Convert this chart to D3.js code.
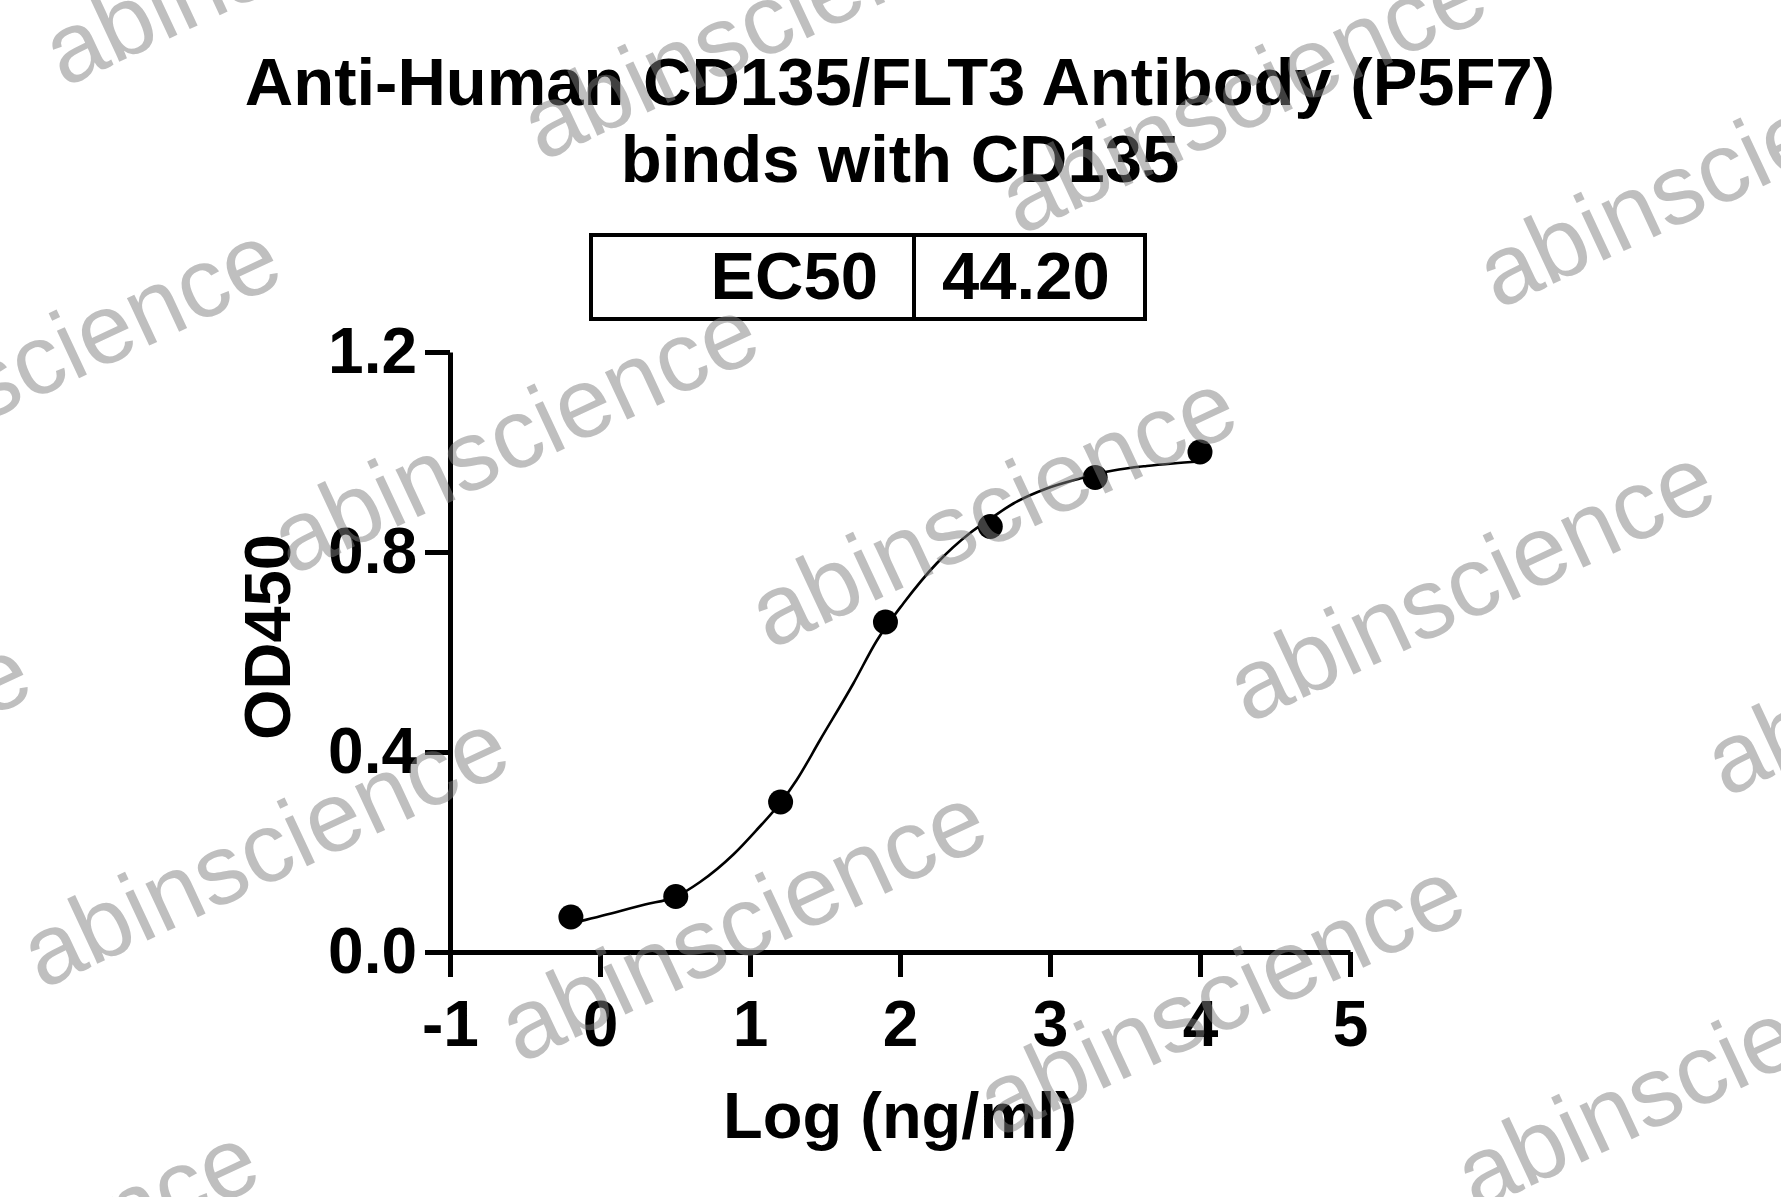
<!DOCTYPE html>
<html>
<head>
<meta charset="utf-8">
<script src="https://cdn.jsdelivr.net/npm/d3@7"></script>
<style>
  html, body { margin: 0; padding: 0; background: #fff; }
  svg { display: block; }
  text { font-family: "Liberation Sans", Arial, Helvetica, sans-serif; }
</style>
</head>
<body>
<svg id="chart" width="1781" height="1197"></svg>
<script>
// ---- data ----
const titleLines = ["Anti-Human CD135/FLT3 Antibody (P5F7)", "binds with CD135"];
const tableCells = ["EC50", "44.20"];
const xLabel = "Log (ng/ml)";
const yLabel = "OD450";
const xTicks = [-1, 0, 1, 2, 3, 4, 5];
const xTickLabels = ["-1", "0", "1", "2", "3", "4", "5"];
const yTicks = [0, 0.4, 0.8, 1.2];
const yTickLabels = ["0.0", "0.4", "0.8", "1.2"];
const pointX = [-0.194, 0.505, 1.204, 1.903, 2.602, 3.301, 4.0];
const pointY = [0.070, 0.111, 0.300, 0.660, 0.851, 0.949, 1.000];
// fitted curve, sampled along the drawn line
const curveX = [-0.194, 0.10, 0.30, 0.50, 0.667, 0.889, 1.044, 1.207, 1.311, 1.467, 1.689, 1.844, 2.022, 2.244, 2.467, 2.60, 2.756, 2.978, 3.20, 3.422, 3.644, 3.82, 4.0];
const curveY = [0.057, 0.079, 0.095, 0.110, 0.140, 0.195, 0.244, 0.300, 0.344, 0.424, 0.537, 0.622, 0.697, 0.777, 0.838, 0.866, 0.897, 0.927, 0.947, 0.963, 0.972, 0.977, 0.981];
const watermarkText = "abinscience";

const svg = d3.select("#chart");
const x = d3.scaleLinear().domain([-1, 5]).range([450, 1350]);
const y = d3.scaleLinear().domain([0, 1.2]).range([952, 352]);
const black = "#000";

// title
svg.append("g").selectAll("text").data(titleLines).join("text")
  .attr("x", 900).attr("y", (d, i) => 105 + i * 77)
  .attr("text-anchor", "middle").attr("font-size", 67).attr("font-weight", "bold")
  .attr("fill", black).text(d => d);

// EC50 table
const tbl = svg.append("g");
tbl.append("rect").attr("x", 591).attr("y", 235).attr("width", 554).attr("height", 84)
  .attr("fill", "none").attr("stroke", black).attr("stroke-width", 4);
tbl.append("line").attr("x1", 914).attr("x2", 914).attr("y1", 235).attr("y2", 319)
  .attr("stroke", black).attr("stroke-width", 4);
tbl.append("text").attr("x", 878).attr("y", 299).attr("text-anchor", "end")
  .attr("font-size", 67).attr("font-weight", "bold").text(tableCells[0]);
tbl.append("text").attr("x", 942).attr("y", 299).attr("text-anchor", "start")
  .attr("font-size", 67).attr("font-weight", "bold").text(tableCells[1]);

// axes
const xAxis = d3.axisBottom(x).tickValues(xTicks)
  .tickFormat((d, i) => xTickLabels[i]).tickSize(25).tickSizeOuter(0).tickPadding(24);
const yAxis = d3.axisLeft(y).tickValues(yTicks)
  .tickFormat((d, i) => yTickLabels[i]).tickSize(25).tickSizeOuter(0).tickPadding(8);

const gx = svg.append("g").attr("transform", "translate(0,952)").call(xAxis);
const gy = svg.append("g").attr("transform", "translate(450,0)").call(yAxis);
[gx, gy].forEach(g => {
  g.select(".domain").attr("stroke", black).attr("stroke-width", 5);
  g.selectAll(".tick line").attr("stroke", black).attr("stroke-width", 5);
  g.selectAll(".tick text").attr("fill", black).attr("font-size", 64)
    .attr("font-weight", "bold").attr("font-family", "'Liberation Sans', Arial, sans-serif");
});

// axis titles
svg.append("text").attr("x", 900).attr("y", 1138).attr("text-anchor", "middle")
  .attr("font-size", 65).attr("font-weight", "bold").text(xLabel);
svg.append("text").attr("transform", "translate(290,637) rotate(-90)")
  .attr("text-anchor", "middle").attr("font-size", 65).attr("font-weight", "bold").text(yLabel);

// fitted curve
const curvePts = curveX.map((d, i) => [d, curveY[i]]);
svg.append("path").datum(curvePts)
  .attr("d", d3.line().x(d => x(d[0])).y(d => y(d[1])).curve(d3.curveMonotoneX))
  .attr("fill", "none").attr("stroke", black).attr("stroke-width", 2.6);

// points
svg.append("g").selectAll("circle").data(pointX.map((d, i) => [d, pointY[i]])).join("circle")
  .attr("cx", d => x(d[0])).attr("cy", d => y(d[1])).attr("r", 12.5).attr("fill", black);

// watermark (decorative, tiled)
const wm = svg.append("g").attr("pointer-events", "none");
const origin = [992, 508], u = [478, 74], v = [-250, 414];
const tiles = [];
for (let i = -4; i <= 4; i++) for (let j = -3; j <= 3; j++) {
  const cx = origin[0] + i * u[0] + j * v[0];
  const cy = origin[1] + i * u[1] + j * v[1];
  if (cx > -300 && cx < 2080 && cy > -150 && cy < 1350) tiles.push([cx, cy]);
}
wm.selectAll("text").data(tiles).join("text")
  .attr("transform", d => `translate(${d[0]},${d[1]}) rotate(-25)`)
  .attr("text-anchor", "middle").attr("dy", "0.35em")
  .attr("font-size", 99).attr("fill", "#808080").attr("fill-opacity", 0.5)
  .text(watermarkText);
</script>
</body>
</html>
